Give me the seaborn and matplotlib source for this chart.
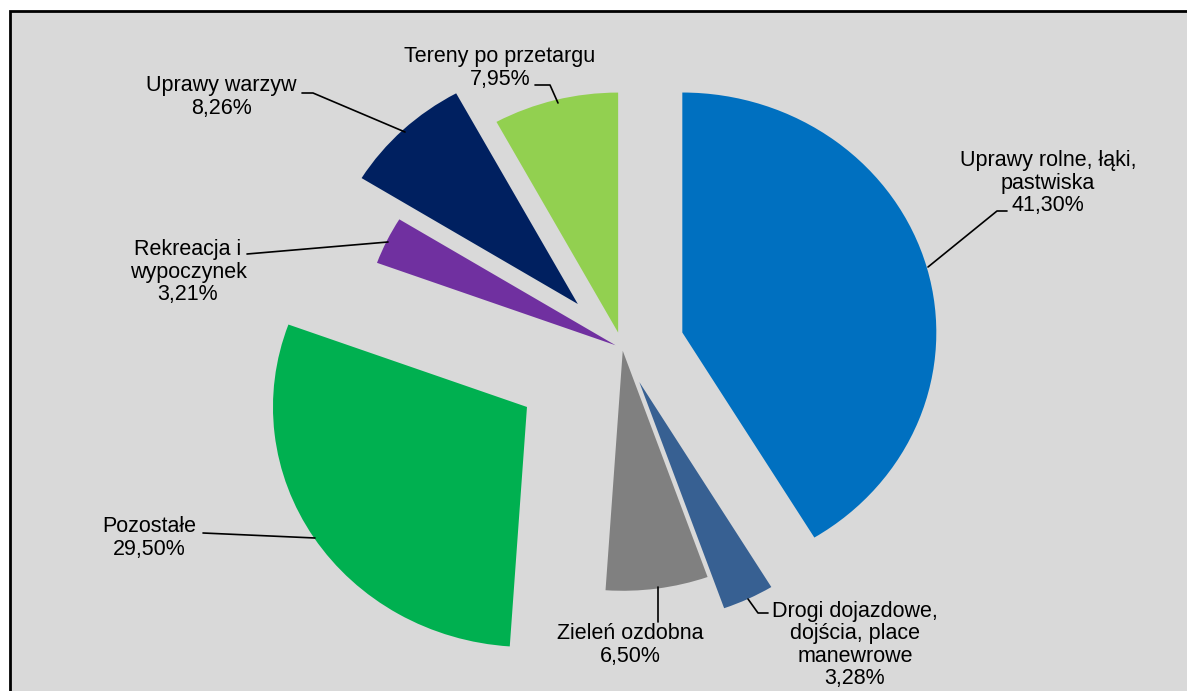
import matplotlib
matplotlib.use("Agg")
import matplotlib.pyplot as plt
from matplotlib.patches import Rectangle
import seaborn as sns

# dane - struktura uzytkowania terenu
kategorie = [
    "Uprawy rolne, łąki,\npastwiska",
    "Drogi dojazdowe,\ndojścia, place\nmanewrowe",
    "Zieleń ozdobna",
    "Pozostałe",
    "Rekreacja i\nwypoczynek",
    "Uprawy warzyw",
    "Tereny po przetargu",
]
udzialy = [41.30, 3.28, 6.50, 29.50, 3.21, 8.26, 7.95]
kolory = ["#0070C0", "#376092", "#808080", "#00B050", "#7030A0", "#002060", "#92D050"]
wysuniecie = [0.245, 0.155, 0.01, 0.448, 0.03, 0.255, 0.068]

sns.set_style("white")
plt.rcParams["font.family"] = ["Liberation Sans", "DejaVu Sans"]

W, H = 1187, 691
fig = plt.figure(figsize=(W / 100, H / 100), dpi=100, facecolor="white")

def px(x, y):
    # piksele obrazu -> wspolrzedne figury
    return (x / W, 1 - y / H)

# szare tlo z ramka (przyciete z prawej i z dolu)
fig.patches.append(Rectangle(px(10, 11 + 720), 1.2, 720 / H, transform=fig.transFigure,
                             facecolor="#D9D9D9", edgecolor="black", linewidth=2, zorder=-5))

ax = fig.add_axes([0, 0, 1, 1], zorder=2)
ax.set_facecolor("none")
ax.pie(udzialy, colors=sns.color_palette(kolory), explode=wysuniecie, startangle=90,
       counterclock=False, wedgeprops={"linewidth": 0})
# srodek kola (622, 348) px, promien 254 px w poziomie i 240 px w pionie
cx, cy, rx, ry = 622.4, 348.4, 254, 240
ax.set_aspect("auto")
ax.set_xlim((0 - cx) / rx, (W - cx) / rx)
ax.set_ylim((cy - H) / ry, cy / ry)
ax.axis("off")

# etykiety: srodek tekstu i linia odniesienia (w pikselach)
etykiety = [
    ((1048, 183), [(928, 267), (997, 211), (1007, 211)]),
    ((855, 645), [(748, 599), (758, 613), (768, 613)]),
    ((630, 645), [(658, 587), (658, 622)]),
    ((149, 538), [(315, 538), (203, 533)]),
    ((188, 272), [(388, 242), (247, 254)]),
    ((221, 97), [(405, 132), (313, 93), (302, 93)]),
    ((500, 68), [(558, 103), (550, 85), (535, 85)]),
]

for kat, wart, (pos, linia) in zip(kategorie, udzialy, etykiety):
    tekst = kat + "\n" + f"{wart:.2f}".replace(".", ",") + "%"
    fig.text(*px(*pos), tekst, ha="center", va="center", fontsize=15.5,
             linespacing=1.08, color="black", zorder=5)
    xs = [px(x, y)[0] for x, y in linia]
    ys = [px(x, y)[1] for x, y in linia]
    fig.add_artist(plt.Line2D(xs, ys, transform=fig.transFigure, color="black",
                              linewidth=1.2, zorder=5))

plt.savefig("out.png", dpi=100)
plt.close()
